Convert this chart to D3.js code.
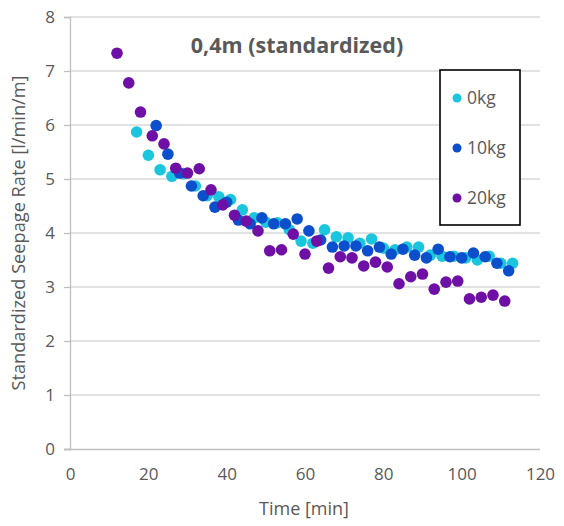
<!DOCTYPE html>
<html>
<head>
<meta charset="utf-8">
<script src="https://cdn.jsdelivr.net/npm/d3@7/dist/d3.min.js"></script>
<style>
  html, body { margin: 0; padding: 0; background: #fff; }
  svg { display: block; }
  text { font-family: "Open Sans", Lato, sans-serif; fill: #595959; }
</style>
</head>
<body>
<svg id="chart" width="564" height="526"></svg>
<script>
// ---- data ----
const seriesNames = ["0kg", "10kg", "20kg"];
const seriesColors = ["#19C6DD", "#0B4FCC", "#6E0FA6"];

const time0 = [17,20,23,26,29,32,35,38,41,44,47,50,53,56,59,62,65,68,71,74,77,80,83,86,89,92,95,98,101,104,107,110,113];
const rate0 = [5.87,5.44,5.17,5.05,5.10,4.87,4.69,4.67,4.62,4.43,4.28,4.20,4.19,4.06,3.85,3.81,4.06,3.93,3.91,3.81,3.89,3.72,3.69,3.74,3.74,3.59,3.57,3.57,3.54,3.50,3.57,3.44,3.44];

const time10 = [22,25,28,31,34,37,40,43,46,49,52,55,58,61,64,67,70,73,76,79,82,85,88,91,94,97,100,103,106,109,112];
const rate10 = [5.99,5.46,5.11,4.87,4.69,4.48,4.57,4.24,4.17,4.28,4.17,4.17,4.26,4.04,3.87,3.74,3.76,3.76,3.67,3.74,3.61,3.70,3.59,3.54,3.70,3.56,3.54,3.63,3.56,3.44,3.30];

const time20 = [12,15,18,21,24,27,30,33,36,39,42,45,48,51,54,57,60,63,66,69,72,75,78,81,84,87,90,93,96,99,102,105,108,111];
const rate20 = [7.33,6.78,6.24,5.80,5.65,5.20,5.11,5.19,4.80,4.52,4.33,4.22,4.04,3.67,3.69,3.98,3.61,3.85,3.35,3.56,3.54,3.39,3.46,3.37,3.06,3.19,3.24,2.96,3.09,3.11,2.78,2.81,2.85,2.74];

const xTicks = [0,20,40,60,80,100,120];
const yTicks = [0,1,2,3,4,5,6,7,8];

const chartTitle = "0,4m (standardized)";
const xTitle = "Time [min]";
const yTitle = "Standardized Seepage Rate [l/min/m]";

// ---- drawing ----
const svg = d3.select("#chart");
const mLeft = 70, mRight = 540, mTop = 17, mBottom = 449;
const FONT = "'Open Sans', Lato, sans-serif";

const x = d3.scaleLinear().domain([0,120]).range([mLeft, mRight]);
const y = d3.scaleLinear().domain([0,8]).range([mBottom, mTop]);

// gridlines
svg.append("g").selectAll("line").data(yTicks.filter(d => d > 0)).join("line")
  .attr("x1", mLeft).attr("x2", mRight)
  .attr("y1", d => y(d)).attr("y2", d => y(d))
  .attr("stroke", "#D9D9D9").attr("stroke-width", 1.3);

// y axis
const yAxis = d3.axisLeft(y).tickValues(yTicks).tickSize(6).tickPadding(9).tickFormat(d3.format("d"));
const gy = svg.append("g").attr("transform", `translate(${mLeft},0)`).call(yAxis);
gy.select(".domain").attr("stroke", "#BFBFBF").attr("stroke-width", 1.3);
gy.selectAll(".tick line").attr("stroke", "#BFBFBF").attr("stroke-width", 1.3);
gy.selectAll(".tick text").style("font-size", "17px").attr("fill", "#595959")
  .style("font-family", FONT);

// x axis (baseline, no ticks)
const xAxis = d3.axisBottom(x).tickValues(xTicks).tickSize(0).tickPadding(19).tickFormat(d3.format("d"));
const gx = svg.append("g").attr("transform", `translate(0,${mBottom})`).call(xAxis);
gx.select(".domain").attr("stroke", "#BFBFBF").attr("stroke-width", 1.3)
  .attr("d", `M${mLeft-6},0.5H${mRight}`);
gx.selectAll(".tick text").style("font-size", "17px").attr("fill", "#595959")
  .style("font-family", FONT);

// titles
svg.append("text").attr("x", 297).attr("y", 53).attr("text-anchor", "middle")
  .style("font-size", "21.5px").style("font-weight", "bold").text(chartTitle);
svg.append("text").attr("x", 304).attr("y", 515).attr("text-anchor", "middle")
  .style("font-size", "18px").text(xTitle);
svg.append("text").attr("transform", `translate(25,${(mTop+mBottom)/2}) rotate(-90)`)
  .attr("text-anchor", "middle").style("font-size", "18.2px").text(yTitle);

// points
const series = [
  {t: time0, v: rate0},
  {t: time10, v: rate10},
  {t: time20, v: rate20}
];
series.forEach((s, i) => {
  svg.append("g").selectAll("circle").data(s.t.map((t, j) => [t, s.v[j]])).join("circle")
    .attr("cx", d => x(d[0])).attr("cy", d => y(d[1])).attr("r", 5.8)
    .attr("fill", seriesColors[i]);
});

// legend
const lg = svg.append("g");
lg.append("rect").attr("x", 440).attr("y", 70).attr("width", 80).attr("height", 155)
  .attr("fill", "#fff").attr("stroke", "#000").attr("stroke-width", 1.6);
seriesNames.forEach((n, i) => {
  const cy = 98 + i * 50;
  lg.append("circle").attr("cx", 457).attr("cy", cy).attr("r", 4.5).attr("fill", seriesColors[i]);
  lg.append("text").attr("x", 467).attr("y", cy + 6).style("font-size", "17.5px").text(n);
});
</script>
</body>
</html>
